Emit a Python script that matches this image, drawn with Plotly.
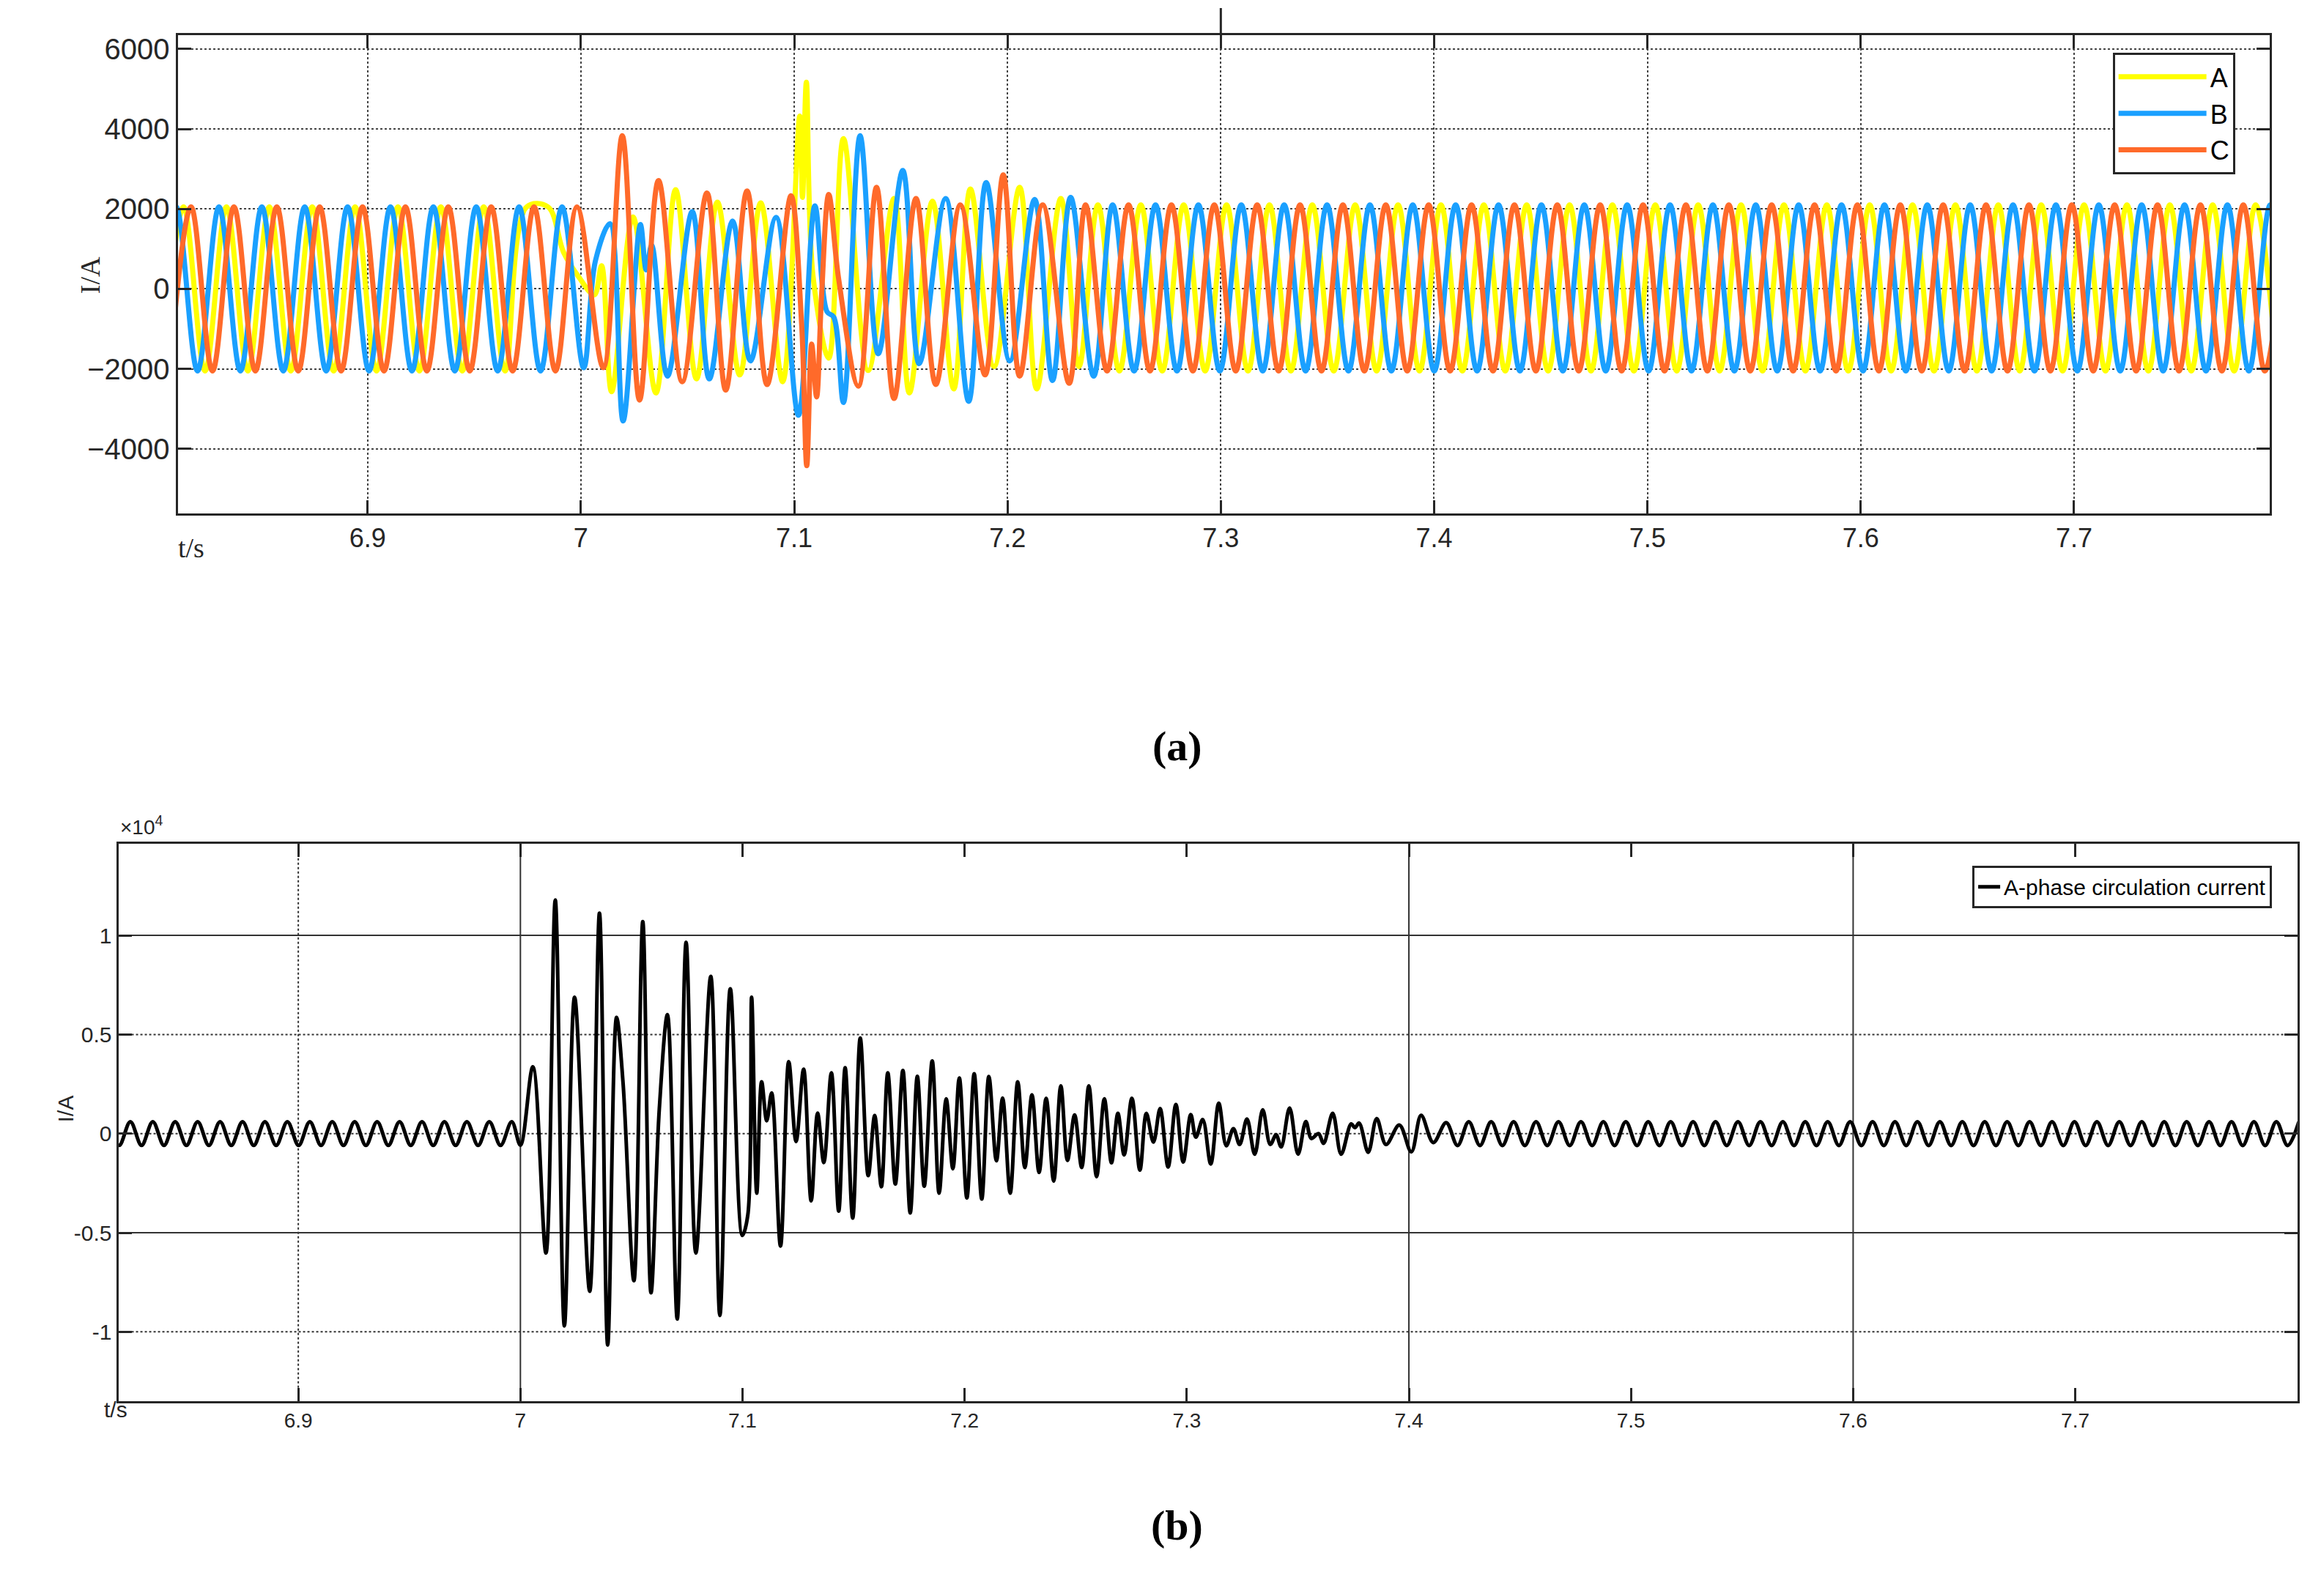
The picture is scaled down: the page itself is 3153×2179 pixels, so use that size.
import plotly.graph_objects as go

# ---- panel (a): three-phase currents, extremes ----
HALF_A = 0.01005   # half period of the 50 Hz phase currents
AMP_PRE = [2050, -2050]
AMP_POST = [2100, -2050]

# phase A (yellow)
a_pre_t0 = 6.8037
a_pre_v = AMP_PRE[::-1] * 9 + [2050]
a_tr_t = [6.992, 6.999, 7.0063, 7.0097, 7.0144, 7.0244, 7.0352, 7.0444, 7.0542, 7.064, 7.0745,
          7.0843, 7.0946, 7.1026, 7.1039, 7.1057, 7.1088, 7.1162, 7.1231, 7.1347, 7.1468,
          7.154, 7.1648, 7.1748, 7.1826, 7.1937, 7.2057, 7.2137, 7.225, 7.2335]
a_tr_v = [900, 300, -150, 580, -2570, 1800, -2600, 2480, -2250, 2170, -2150,
          2150, -2320, 4320, 2290, 5170, 335, -1730, 3760, -2040, 2260,
          -2600, 2190, -2500, 2500, -1940, 2540, -2500, 2260, -1940]
a_post_t0 = 7.2424
a_post_v = AMP_POST * 28

# phase B (blue)
b_pre_t0 = 6.8002
b_pre_v = AMP_PRE[::-1] * 10
b_tr_t = [7.0013, 7.0068, 7.0136, 7.0198, 7.0279, 7.0306, 7.0332, 7.0406, 7.0522, 7.0602, 7.0711,
          7.0795, 7.0915, 7.102, 7.1097, 7.1154, 7.1185, 7.1231, 7.1309, 7.1394, 7.1509,
          7.1586, 7.171, 7.1818, 7.19, 7.2011, 7.2127, 7.2211, 7.2296, 7.2404]
b_tr_v = [-1970, 700, 1630, -3300, 1610, 475, 1100, -2180, 1930, -2250, 1700,
          -1800, 1790, -3160, 2080, -570, -700, -2840, 3830, -1620, 2960,
          -1870, 2260, -2810, 2660, -1800, 2240, -2290, 2290, -2180]
b_post_t0 = 7.2493
b_post_v = AMP_POST * 28

# phase C (orange)
c_pre_t0 = 6.8072
c_pre_v = AMP_PRE[::-1] * 10
c_tr_t = [7.0105, 7.0194, 7.0275, 7.0364, 7.0475, 7.0591, 7.0679, 7.0779, 7.0873, 7.0985,
          7.1035, 7.1059, 7.1082, 7.1105, 7.1128, 7.1162, 7.1208, 7.1301, 7.1386, 7.1468,
          7.1571, 7.1664, 7.1779, 7.1895, 7.198, 7.2057, 7.2165, 7.2289, 7.2366]
c_tr_v = [-1970, 3830, -2780, 2710, -2320, 2400, -2530, 2450, -2390, 2330,
          -900, -4420, -1380, -2700, -200, 2360, 265, -2430, 2540, -2740,
          2260, -2390, 2100, -2150, 2850, -2180, 2100, -2360, 2100]
c_post_t0 = 7.2467
c_post_v = AMP_POST[::-1] * 28

# ---- panel (b): A-phase circulating current ----
HALF_B = 0.00505
circ_pre_t0 = 6.8143
circ_pre_v = [600, -590] * 18 + [600]
circ_tr_t = [7.0, 7.0056, 7.0115, 7.0157, 7.0198, 7.0244, 7.0312, 7.0356, 7.0393, 7.0433, 7.0462,
             7.0511, 7.0551, 7.0588, 7.0625, 7.0662, 7.0706, 7.0746, 7.079, 7.0857, 7.0898,
             7.0945, 7.0999, 7.1024, 7.1041, 7.1064, 7.1086, 7.1109, 7.1131, 7.1171, 7.1208,
             7.1241, 7.1275, 7.1309, 7.1338, 7.1366, 7.14, 7.1433, 7.1462, 7.1496, 7.153,
             7.1566, 7.1595, 7.1625, 7.1654, 7.1688, 7.1722, 7.1755, 7.1787, 7.1818, 7.1854,
             7.1885, 7.1917, 7.1947, 7.1976, 7.201, 7.2043, 7.2077, 7.2109, 7.2143, 7.2171,
             7.2205, 7.2239,
             7.2271, 7.2303, 7.2335, 7.2367, 7.2401, 7.2433, 7.2463, 7.2495, 7.2527, 7.2559,
             7.2594, 7.2629, 7.2661, 7.269, 7.2718, 7.2753, 7.2789, 7.2818, 7.285, 7.288,
             7.2916, 7.2951, 7.2984, 7.3018, 7.3041, 7.3072, 7.3108, 7.3144, 7.3178, 7.321,
             7.3238, 7.3271, 7.3306, 7.3342, 7.3376, 7.3402, 7.3425, 7.3463, 7.3501, 7.3536,
             7.3561, 7.3593, 7.3616, 7.3657, 7.3695, 7.374, 7.3757, 7.3776, 7.3817, 7.3855,
             7.3897, 7.3957, 7.4011, 7.4055, 7.411, 7.4168]
circ_tr_v = [-580, 3370, -6020, 11790, -9700, 6880, -7950, 11120, -10660, 5860, 2580,
             -7420, 10700, -8030, 1175, 6000, -9350, 9650, -6020, 7930, -9170,
             7310, -5140, -4090, 6880, -3000, 2610, 650, 2050, -5670, 3630,
             -400, 3250, -3390, 1030, -1460, 3070, -3910, 3320, -4260, 4820,
             -2120, 910, -2680, 3070, -2540, 3190, -4000, 2890, -2650, 3670,
             -3000, 1750, -1770, 2810, -3240, 3020, -3300, 2880, -1370, 1790,
             -3000, 2610,
             -1710, 1960, -1960, 1780, -2390, 2410, -1350, 940, -1710, 2410,
             -2170, 1750, -1470, 1020, -1070, 1780, -1840, 1020, -430, 1260,
             -1680, 1470, -1430, 960, -180, 710, -1530, 1530, -610, 245,
             -550, 735, -1040, 1200, -550, -60, -670, 1290, -1040, 610,
             -245, 0, -490, 1020, -1040, 490, 300, 530, -940, 760,
             -550, 430, -920, 920, -450, 550]
circ_post_t0 = 7.4219
circ_post_v = [-600, 600] * 38

X_TICKS = [6.9, 7.0, 7.1, 7.2, 7.3, 7.4, 7.5, 7.6, 7.7]
X_LABELS = ["6.9", "7", "7.1", "7.2", "7.3", "7.4", "7.5", "7.6", "7.7"]
YA_TICKS = [-4000, -2000, 0, 2000, 4000, 6000]
YB_TICKS = [-10000, -5000, 0, 5000, 10000]
YB_LABELS = ["-1", "-0.5", "0", "0.5", "1"]


def grid(t0, half, n):
    return [round(t0 + k * half, 5) for k in range(n)]


def phase(pre_t0, pre_v, tr_t, tr_v, post_t0, post_v, half):
    t = grid(pre_t0, half, len(pre_v)) + tr_t + grid(post_t0, half, len(post_v))
    return t, pre_v + tr_v + post_v


fig = go.Figure()
phases = [
    ("A", "#ffff00", a_pre_t0, a_pre_v, a_tr_t, a_tr_v, a_post_t0, a_post_v),
    ("B", "#1aa0ff", b_pre_t0, b_pre_v, b_tr_t, b_tr_v, b_post_t0, b_post_v),
    ("C", "#ff6a2a", c_pre_t0, c_pre_v, c_tr_t, c_tr_v, c_post_t0, c_post_v),
]
for name, col, *args in phases:
    t, v = phase(*args, HALF_A)
    fig.add_trace(go.Scatter(x=t, y=v, name=name, mode="lines",
                             line=dict(color=col, width=7, shape="spline", smoothing=1),
                             xaxis="x", yaxis="y", legend="legend"))

t, v = phase(circ_pre_t0, circ_pre_v, circ_tr_t, circ_tr_v, circ_post_t0, circ_post_v, HALF_B)
fig.add_trace(go.Scatter(x=t, y=v, name="A-phase circulation current", mode="lines",
                         line=dict(color="black", width=5, shape="spline", smoothing=1),
                         xaxis="x2", yaxis="y2", legend="legend2"))

ax_common = dict(showline=True, linecolor="#262626", linewidth=3, mirror="ticks",
                 ticks="inside", ticklen=18, tickwidth=3, tickcolor="#262626", zeroline=False)

fig.update_layout(
    width=3153, height=2179, paper_bgcolor="white", plot_bgcolor="white",
    margin=dict(l=0, r=0, t=0, b=0),
    font=dict(family="Liberation Sans, Arial", color="#262626"),
    xaxis=dict(domain=[0.0744, 0.980], range=[6.811, 7.7917], tickvals=X_TICKS, ticktext=X_LABELS,
               tickfont=dict(size=36), showgrid=True, gridcolor="#444", griddash="dot", gridwidth=2,
               anchor="y", **ax_common),
    yaxis=dict(domain=[0.683, 0.983], range=[-5610, 6345], tickvals=YA_TICKS,
               tickfont=dict(size=40), showgrid=True, gridcolor="#444", griddash="dot", gridwidth=2,
               anchor="x", **ax_common),
    xaxis2=dict(domain=[0.0487, 0.992], range=[6.819, 7.80], tickvals=X_TICKS, ticktext=X_LABELS,
                tickfont=dict(size=28), showgrid=False, anchor="y2", **ax_common),
    yaxis2=dict(domain=[0.126, 0.4755], range=[-13490, 14610], tickvals=YB_TICKS, ticktext=YB_LABELS,
                tickfont=dict(size=30), showgrid=False, anchor="x2", **ax_common),
    legend=dict(x=0.965, y=0.972, xanchor="right", yanchor="top", bordercolor="#262626",
                borderwidth=3, bgcolor="white", font=dict(size=36, color="black"),
                itemwidth=120, tracegroupgap=0),
    legend2=dict(x=0.981, y=0.462, xanchor="right", yanchor="top", bordercolor="#262626",
                 borderwidth=3, bgcolor="white", font=dict(size=30, color="black")),
    showlegend=True,
)

# small tick above panel (a)
fig.add_shape(type="line", xref="x", yref="paper", x0=7.3, x1=7.3, y0=0.983, y1=1.0,
              line=dict(color="#262626", width=3))

# bottom panel grid lines as drawn in the original
for xv, dash in [(6.9, "dot"), (7.0, "solid"), (7.4, "solid"), (7.6, "solid")]:
    fig.add_shape(type="line", xref="x2", yref="y2 domain", x0=xv, x1=xv, y0=0, y1=1,
                  line=dict(color="#333", width=2, dash=dash), layer="below")
for yv, dash in [(10000, "solid"), (5000, "dot"), (0, "dot"), (-5000, "solid"), (-10000, "dot")]:
    fig.add_shape(type="line", xref="x2 domain", yref="y2", x0=0, x1=1, y0=yv, y1=yv,
                  line=dict(color="#333", width=2, dash=dash), layer="below")

serif = "Liberation Serif, Times New Roman"
fig.add_annotation(text="I/A", xref="paper", yref="paper", x=0.029, y=0.845, textangle=-90,
                   showarrow=False, font=dict(family=serif, size=38, color="#262626"))
fig.add_annotation(text="t/s", xref="paper", yref="paper", x=0.074, y=0.672, showarrow=False,
                   font=dict(family=serif, size=38, color="#262626"))
fig.add_annotation(text="I/A", xref="paper", yref="paper", x=0.020, y=0.30, textangle=-90,
                   showarrow=False, font=dict(size=30, color="#262626"))
fig.add_annotation(text="t/s", xref="paper", yref="paper", x=0.042, y=0.112, showarrow=False,
                   font=dict(size=30, color="#262626"))
fig.add_annotation(text="×10<sup>4</sup>", xref="paper", yref="paper", x=0.049, y=0.478,
                   xanchor="left", yanchor="bottom", showarrow=False, font=dict(size=28, color="#262626"))
fig.add_annotation(text="<b>(a)</b>", xref="paper", yref="paper", x=0.507, y=0.537, showarrow=False,
                   font=dict(family=serif, size=58, color="black"))
fig.add_annotation(text="<b>(b)</b>", xref="paper", yref="paper", x=0.507, y=0.032, showarrow=False,
                   font=dict(family=serif, size=58, color="black"))

fig.write_html("out.html")
